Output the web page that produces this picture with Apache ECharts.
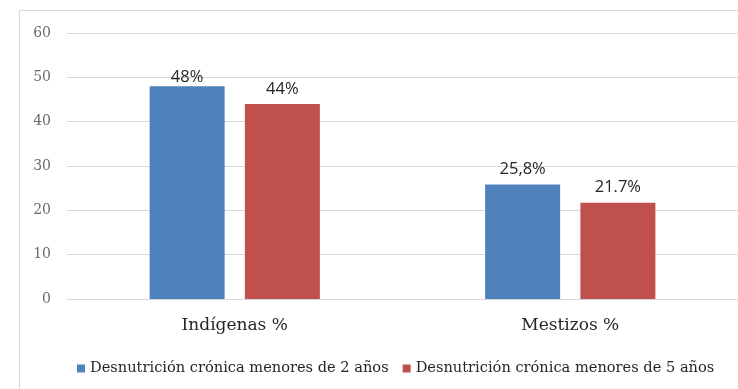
<!DOCTYPE html>
<html>
<head>
<meta charset="utf-8">
<script src="https://cdn.jsdelivr.net/npm/echarts@6/dist/echarts.min.js"></script>
<style>
  html, body { margin: 0; padding: 0; background: #fff; }
  #chart { width: 738px; height: 389px; }
</style>
</head>
<body>
<div id="chart"></div>
<script>
// Chronic malnutrition by ethnic group
const categories = ['Indígenas %', 'Mestizos %'];
const seriesNames = ['Desnutrición crónica menores de 2 años', 'Desnutrición crónica menores de 5 años'];
const under2 = [48, 25.8];
const under5 = [44, 21.7];
const under2Labels = ['48%', '25,8%'];
const under5Labels = ['44%', '21.7%'];
const yTicks = [0, 10, 20, 30, 40, 50, 60];

const chart = echarts.init(document.getElementById('chart'));

const labelFont = 'Open Sans, Liberation Sans, sans-serif';
const serifFont = 'DejaVu Serif, Liberation Serif, serif';

function barSeries(name, values, labels, color, gaps) {
  return {
    name: name,
    type: 'bar',
    data: values.map((v, i) => ({
      value: v,
      label: { distance: gaps[i] }
    })),
    barWidth: 75,
    barGap: '27%',
    itemStyle: { color: color },
    label: {
      show: true,
      position: 'top',
      formatter: p => labels[p.dataIndex],
      fontFamily: labelFont,
      fontSize: 16.5,
      color: '#262626'
    }
  };
}

chart.setOption({
  animation: false,
  graphic: [{
    type: 'rect',
    shape: { x: 19.5, y: 10.5, width: 760, height: 420 },
    style: { fill: 'none', stroke: '#d9d9d9', lineWidth: 1 },
    z: -1
  }],
  grid: { left: 67, right: 0, top: 33, bottom: 90 },
  legend: {
    top: 356,
    left: 72,
    itemWidth: 8,
    itemHeight: 8,
    itemGap: 14,
    icon: 'rect',
    textStyle: { fontFamily: serifFont, fontSize: 14.6, color: '#262626' },
    data: seriesNames
  },
  xAxis: {
    type: 'category',
    data: categories,
    axisLine: { show: true, lineStyle: { color: '#d9d9d9' } },
    axisTick: { show: false },
    axisLabel: { fontFamily: serifFont, fontSize: 17, color: '#262626', margin: 18 }
  },
  yAxis: {
    type: 'value',
    min: yTicks[0],
    max: yTicks[yTicks.length - 1],
    interval: 10,
    axisLine: { show: false },
    axisTick: { show: false },
    splitLine: { lineStyle: { color: '#d9d9d9' } },
    axisLabel: { fontFamily: serifFont, fontSize: 14, color: '#6b6b6b', margin: 16 }
  },
  series: [
    barSeries(seriesNames[0], under2, under2Labels, '#4F81BD', [0, 7]),
    barSeries(seriesNames[1], under5, under5Labels, '#C0504D', [6, 7])
  ]
});
</script>
</body>
</html>
